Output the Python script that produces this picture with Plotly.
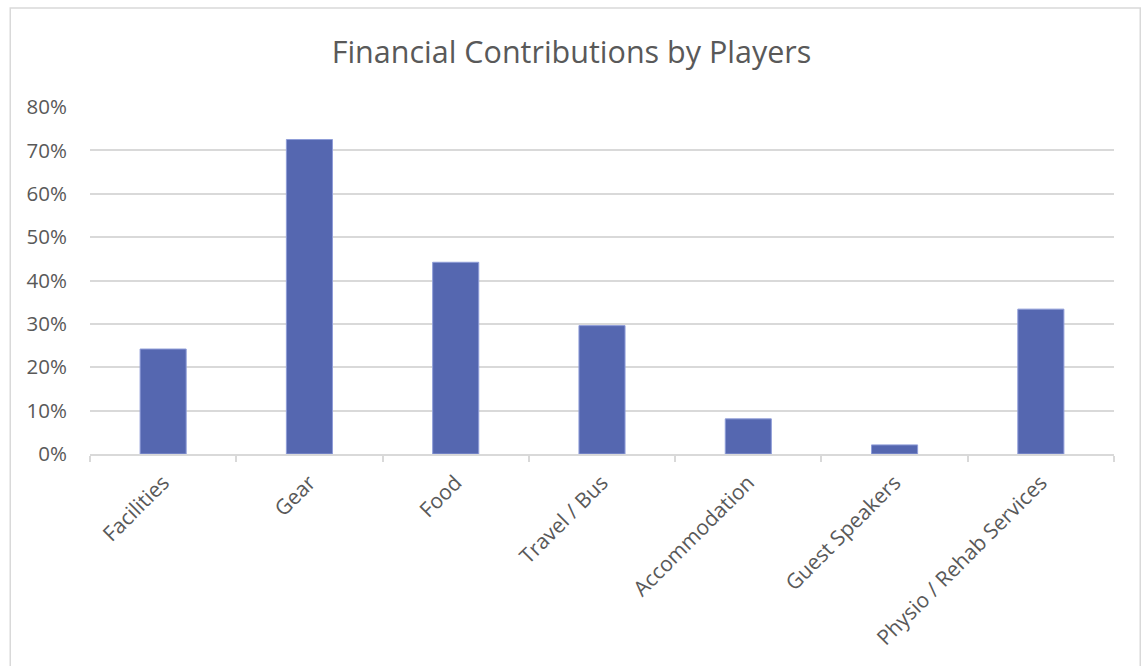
import plotly.graph_objects as go

# Share of players contributing to each expense category
categories = [
    "Facilities",
    "Gear",
    "Food",
    "Travel / Bus",
    "Accommodation",
    "Guest Speakers",
    "Physio / Rehab Services",
]
shares = [0.242, 0.725, 0.442, 0.296, 0.081, 0.021, 0.334]

y_ticks = [0.0, 0.1, 0.2, 0.3, 0.4, 0.5, 0.6, 0.7, 0.8]

TEXT = "#595959"
GRID = "#d9d9d9"
FONT = "Open Sans, Calibri, Liberation Sans, sans-serif"

fig = go.Figure(
    go.Bar(
        x=categories,
        y=shares,
        marker=dict(color="#5567b0", line=dict(color="#8f9dd8", width=1)),
    )
)

fig.update_layout(
    width=1143,
    height=666,
    paper_bgcolor="white",
    plot_bgcolor="white",
    margin=dict(l=90, r=29, t=107, b=212),
    bargap=0.685,
    showlegend=False,
    font=dict(family=FONT, color=TEXT),
    title=dict(
        text="Financial Contributions by Players",
        x=0.5,
        xanchor="center",
        y=1 - 52 / 666,
        yanchor="middle",
        font=dict(size=30.5, color=TEXT, family=FONT),
    ),
    shapes=[
        dict(
            type="rect",
            xref="paper",
            yref="paper",
            x0=-82 / 1053,
            x1=1 + 27 / 1053,
            y0=-220 / 347,
            y1=1 + 99 / 347,
            line=dict(color="#d9d9d9", width=1.5),
            fillcolor="rgba(0,0,0,0)",
            layer="below",
        )
    ],
)

fig.update_xaxes(
    type="category",
    showline=True,
    linecolor=GRID,
    linewidth=2,
    ticks="outside",
    tickson="boundaries",
    ticklen=6,
    tickcolor=GRID,
    tickwidth=1.5,
    tickangle=-45,
    ticklabelstandoff=6,
    tickfont=dict(size=21, color=TEXT),
    showgrid=False,
)

fig.update_yaxes(
    range=[0, 0.8],
    tickvals=y_ticks,
    tickformat=".0%",
    showgrid=True,
    gridcolor=GRID,
    gridwidth=1.5,
    zeroline=False,
    showline=False,
    ticks="",
    ticklabelstandoff=22,
    tickfont=dict(size=20.5, color=TEXT),
)

fig.write_html("out.html")
